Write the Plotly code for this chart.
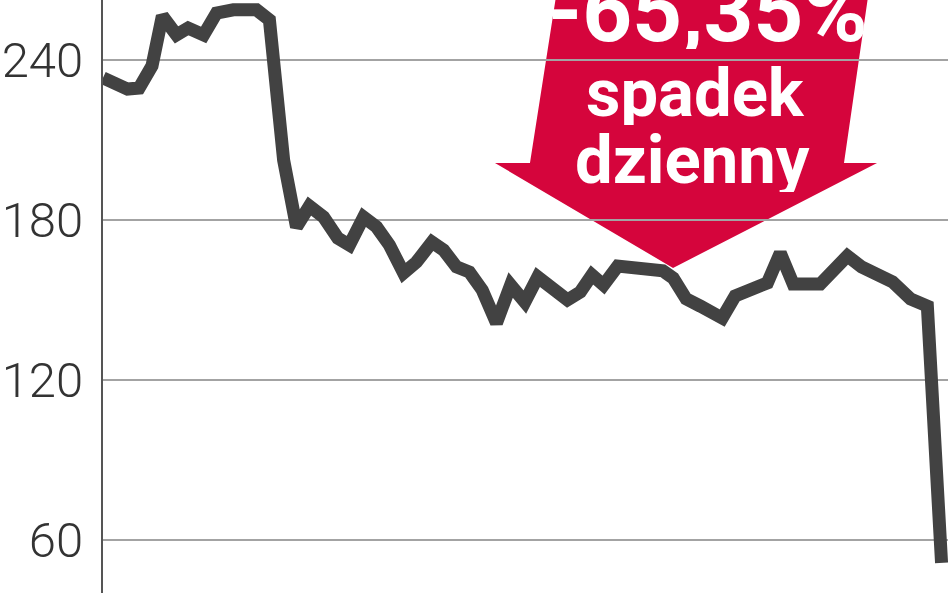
import plotly.graph_objects as go

# Trading session index (x) and share price (y)
session = [0, 1.9, 2.8, 3.8, 4.6, 5.7, 6.6, 7.8, 8.8, 10.1, 11.9, 12.9, 14.0, 15.0,
           16.0, 17.1, 18.2, 19.1, 20.2, 21.2, 22.2, 23.3, 24.3, 25.5, 26.4, 27.4,
           28.4, 29.4, 30.5, 31.6, 32.7, 33.7, 36.0, 37.0, 37.9, 38.8, 39.9, 41.6,
           43.4, 44.2, 45.2, 46.3, 48.0, 49.0, 50.2, 51.5, 52.5, 53.5, 55.6, 57.7,
           58.8, 60.2, 61.2, 62.6, 63.9, 65.0]
price = [233.3, 229.1, 229.5, 237.8, 256.5, 249.4, 252.0, 249.4, 257.6, 258.8, 258.8,
         255.0, 202.5, 177.4, 185.2, 181.1, 173.2, 170.6, 181.1, 177.4, 170.6, 160.1,
         164.2, 171.7, 168.7, 162.4, 160.5, 153.7, 141.4, 155.6, 149.2, 158.6, 150.0,
         153.0, 159.4, 155.6, 162.7, 162.0, 160.9, 158.2, 150.4, 147.7, 143.2, 151.5,
         154.5, 156.4, 167.6, 156.0, 156.0, 166.5, 162.4, 159.8, 156.8, 150.4, 147.7,
         51.4]
y_ticks = [60, 120, 180, 240]
callout = ["-65,35%", "spadek", "dzienny"]

W, H = 948, 593
L = 103
PW = W - L


def px(x):
    return (x - L) / PW


def py(y):
    return 1 - y / H


fig = go.Figure()
fig.add_trace(go.Scatter(
    x=session, y=price, mode="lines",
    line=dict(color="#424242", width=13),
    hoverinfo="skip", showlegend=False,
))

# red arrow (path in paper coords)
pts = [(557, -10), (530, 163), (495, 163), (673, 268), (877, 163), (844, 163), (869, -10)]
path = "M " + " L ".join(f"{px(a):.4f},{py(b):.4f}" for a, b in pts) + " Z"
fig.add_shape(type="path", xref="paper", yref="paper", path=path,
              fillcolor="#d5053c", line=dict(width=0), layer="between")

fig.add_annotation(text=callout[0], xref="paper", yref="paper", x=px(708), y=py(11),
                   showarrow=False, xanchor="center", yanchor="middle", height=76,
                   font=dict(family="Roboto", size=87, color="white", weight="bold"))
fig.add_annotation(text=callout[1], xref="paper", yref="paper", x=px(695), y=py(93),
                   showarrow=False, xanchor="center", yanchor="middle", height=64,
                   font=dict(family="Roboto", size=67, color="white", weight="bold"))
fig.add_annotation(text=callout[2], xref="paper", yref="paper", x=px(692), y=py(160),
                   showarrow=False, xanchor="center", yanchor="middle", height=64,
                   font=dict(family="Roboto", size=67, color="white", weight="bold"))

fig.update_layout(
    width=W, height=H,
    margin=dict(l=L, r=0, t=0, b=0),
    paper_bgcolor="white", plot_bgcolor="white",
    xaxis=dict(range=[0, 65.5], showgrid=False, zeroline=False, showticklabels=False,
               showline=False, fixedrange=True),
    yaxis=dict(range=[40.1, 262.5], tickvals=y_ticks, ticktext=[str(v) for v in y_ticks],
               showgrid=True, gridcolor="#a3a3a3", gridwidth=2, zeroline=False,
               showline=True, linecolor="#555555", linewidth=2,
               ticks="", ticklabelstandoff=8,
               tickfont=dict(family="Roboto", size=49, color="#333333", weight=300),
               fixedrange=True),
)

fig.write_html("out.html", config={"displayModeBar": False},
               post_script="document.body.style.margin='0';document.body.style.overflow='hidden';")
